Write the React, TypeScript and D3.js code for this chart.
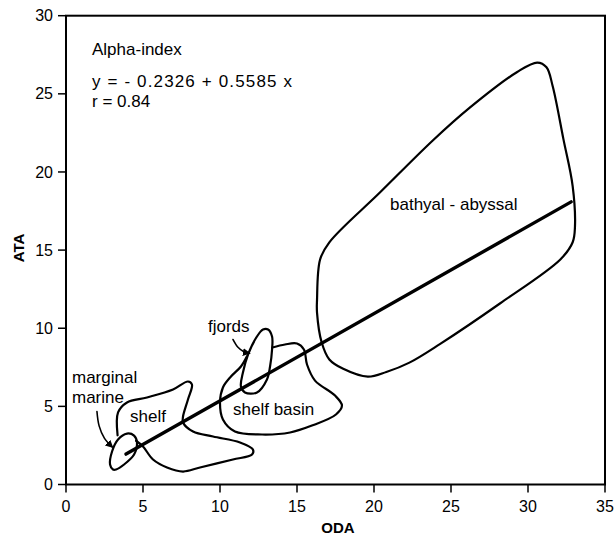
import React from 'react';
import * as d3 from 'd3';

type P = [number, number];

const xTicks = [0, 5, 10, 15, 20, 25, 30, 35];
const yTicks = [0, 5, 10, 15, 20, 25, 30];

const intercept = -0.2326;
const slope = 0.5585;
const fitRange: P = [3.9, 32.8];

const bathyal: P[] = [
  [30.6, 27.0], [31.2, 26.7], [31.6, 25.5], [32.3, 22.1], [32.9, 19.1], [33.05, 16.5],
  [32.9, 15.5], [32.1, 14.4], [28.2, 11.6], [24.3, 9.0], [22.3, 7.8], [20.8, 7.2],
  [19.6, 6.9], [18.0, 7.4], [17.1, 8.0], [16.6, 9.1], [16.3, 11.0], [16.3, 11.8],
  [16.5, 14.4], [17.1, 15.5], [20.4, 18.7], [23.8, 22.0], [26.2, 24.1], [29.3, 26.4],
];

const fjords: P[] = [
  [13.12, 9.92], [13.38, 9.47], [13.38, 8.64], [13.25, 7.55], [13.05, 6.72], [12.4, 5.89],
  [11.62, 5.89], [11.36, 6.27], [11.49, 7.17], [11.82, 8.32], [12.4, 9.47], [12.79, 9.92],
];

const shelfBasin: P[] = [
  [13.4, 8.77], [14.22, 8.96], [15.0, 9.02], [15.45, 8.64], [15.65, 7.68], [16.17, 6.65],
  [17.47, 5.69], [17.92, 5.05], [17.53, 4.48], [15.97, 3.77], [14.55, 3.33], [12.73, 3.2],
  [10.97, 3.39], [10.19, 4.16], [10.0, 5.25], [10.19, 6.21], [10.71, 6.91], [11.36, 7.55],
  [11.75, 8.2],
];

const shelf: P[] = [
  [3.35, 3.15], [3.38, 4.61], [3.96, 5.25], [5.26, 5.57], [6.95, 6.08], [7.92, 6.59],
  [8.18, 6.4], [7.92, 5.44], [7.6, 4.35], [7.6, 3.97], [8.25, 3.39], [9.55, 3.07],
  [11.3, 2.69], [12.14, 2.24], [12.08, 1.92], [10.84, 1.6], [8.7, 1.09], [7.6, 0.83],
  [6.56, 1.09], [5.65, 1.6], [5.0, 2.43], [4.55, 2.8],
];

const marginalMarine: P[] = [
  [3.05, 0.96], [2.86, 1.28], [2.99, 2.11], [3.38, 2.88], [3.96, 3.26], [4.42, 3.13],
  [4.61, 2.69], [4.42, 1.92], [3.77, 1.28], [3.25, 0.96],
];

const marginalArrow: P[] = [[2.01, 4.67], [2.15, 3.75], [2.5, 2.95], [3.0, 2.4]];
const fjordArrow: P[] = [[10.84, 9.28], [11.15, 8.8], [11.55, 8.5], [11.9, 8.4]];

const W = 614;
const H = 537;
const FONT = '"Liberation Sans", Arial, Helvetica, sans-serif';

export default function App() {
  const x = d3.scaleLinear().domain([0, 35]).range([66, 605]);
  const y = d3.scaleLinear().domain([0, 30]).range([484.5, 15.7]);

  const closed = d3.line<P>().x(d => x(d[0])).y(d => y(d[1])).curve(d3.curveCatmullRomClosed.alpha(0.5));
  const open = d3.line<P>().x(d => x(d[0])).y(d => y(d[1])).curve(d3.curveCatmullRom.alpha(0.5));
  const straight = d3.line<P>().x(d => x(d[0])).y(d => y(d[1]));

  const fit: P[] = fitRange.map(v => [v, intercept + slope * v] as P);

  const sw = 2.2;
  return (
    <svg width={W} height={H} style={{ position: 'absolute', left: 0, top: 0, background: '#fff' }}
      fontFamily={FONT}>
      <defs>
        <marker id="ah" viewBox="0 0 10 10" refX="8" refY="5" markerWidth="5" markerHeight="5" orient="auto">
          <path d="M0,0 L10,5 L0,10 z" fill="#000" />
        </marker>
      </defs>
      <rect x={0} y={0} width={W} height={H} fill="#fff" />
      <rect x={x(0)} y={y(30)} width={x(35) - x(0)} height={y(0) - y(30)} fill="none" stroke="#000" strokeWidth={2} />
      {xTicks.map(t => (
        <g key={'x' + t} transform={`translate(${x(t)},${y(0)})`}>
          <line y2={8} stroke="#000" strokeWidth={1.5} />
          <text y={27} textAnchor="middle" fontSize={16}>{t}</text>
        </g>
      ))}
      {yTicks.map(t => (
        <g key={'y' + t} transform={`translate(${x(0)},${y(t)})`}>
          <line x2={-8} stroke="#000" strokeWidth={1.5} />
          <text x={-13} dy="0.35em" textAnchor="end" fontSize={16}>{t}</text>
        </g>
      ))}
      <text x={338} y={533} textAnchor="middle" fontSize={15} fontWeight="bold">ODA</text>
      <text transform="translate(24,248) rotate(-90)" textAnchor="middle" fontSize={15} fontWeight="bold">ATA</text>

      <g fill="none" stroke="#000" strokeWidth={sw} strokeLinejoin="round" strokeLinecap="round">
        <path d={closed(bathyal) || ''} />
        <path d={closed(fjords) || ''} />
        <path d={open(shelfBasin) || ''} />
        <path d={open(shelf) || ''} />
        <path d={closed(marginalMarine) || ''} />
        <path d={open(marginalArrow) || ''} strokeWidth={1.6} markerEnd="url(#ah)" />
        <path d={open(fjordArrow) || ''} strokeWidth={1.6} markerEnd="url(#ah)" />
      </g>
      <path d={straight(fit) || ''} fill="none" stroke="#000" strokeWidth={3.4} strokeLinecap="round" />

      <g fontSize={17} fill="#000">
        <text x={92} y={55}>Alpha-index</text>
        <text x={92} y={87} textLength={200} lengthAdjust="spacing">y = - 0.2326 + 0.5585 x</text>
        <text x={92} y={107}>r = 0.84</text>
        <text x={390} y={210}>bathyal - abyssal</text>
        <text x={208} y={332}>fjords</text>
        <text x={233} y={415}>shelf basin</text>
        <text x={130} y={422}>shelf</text>
        <text x={72} y={383}>marginal</text>
        <text x={72} y={403}>marine</text>
      </g>
    </svg>
  );
}
